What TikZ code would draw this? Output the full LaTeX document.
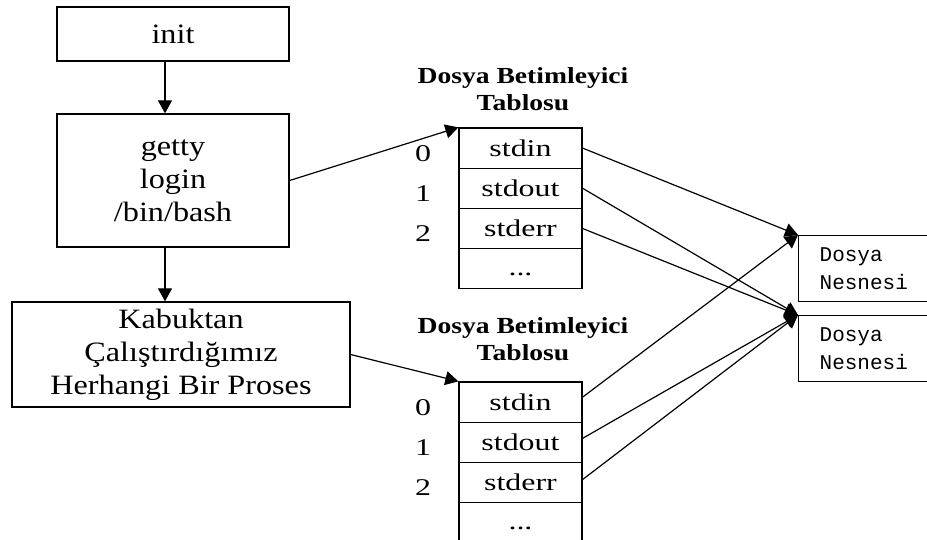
\documentclass[tikz,border=0pt]{standalone}
\usepackage{fontspec}
\usetikzlibrary{arrows.meta}
\newfontfamily\boxfont[FakeStretch=1.15]{Liberation Serif}
\newfontfamily\cellfont[FakeStretch=1.33]{Liberation Serif}
\newfontfamily\headfont[FakeStretch=1.2]{Liberation Serif}
\newfontfamily\objfont{Liberation Mono}
\newcommand{\lowdots}{\raisebox{-7pt}[0pt][0pt]{...}}
\tikzset{
  procbox/.style={draw, line width=1.3pt, rectangle, align=center, inner sep=0pt,
    font=\boxfont\fontsize{28}{33}\selectfont},
  cell/.style={draw, line width=1.3pt, rectangle, inner sep=0pt,
    minimum width=123pt, minimum height=40.2pt,
    font=\cellfont\fontsize{24}{26}\selectfont},
  idx/.style={inner sep=0pt, font=\cellfont\fontsize{24}{26}\selectfont},
  tabtitle/.style={inner sep=0pt, align=center,
    font=\headfont\bfseries\fontsize{23}{27}\selectfont},
  objbox/.style={draw, line width=1.3pt, rectangle, anchor=north west,
    inner xsep=21pt, inner ysep=0pt, text width=110pt, align=left,
    minimum height=66pt, font=\objfont\fontsize{21}{28}\selectfont},
  link/.style={line width=1.2pt, -{Triangle[length=13pt,width=14pt]}}
}
\begin{document}
\begin{tikzpicture}[x=1pt,y=-1pt]
  \useasboundingbox (0,0) rectangle (927,539);
  \clip (0,0) rectangle (927,539);
  \fill[white] (0,0) rectangle (927,539);

  % process chain
  \node[procbox, minimum width=232pt, minimum height=54pt] (init) at (173,34) {init};
  \node[procbox, minimum width=232pt, minimum height=133pt] (getty) at (173,180.5)
    {getty\\login\\/bin/bash};
  \node[procbox, minimum width=338pt, minimum height=105pt] (kab) at (181,354.5)
    {Kabuktan\\Çalıştırdığımız\\Herhangi Bir Proses};

  \draw[link] ([xshift=-8pt]init.south) -- ([xshift=-8pt]init.south |- getty.north);
  \draw[link] ([xshift=-8pt]getty.south) -- ([xshift=-8pt]getty.south |- kab.north);

  % first descriptor table
  \node[tabtitle] (h1) at (523,89) {Dosya Betimleyici\\Tablosu};
  \node[cell] (a0) at (520.5,148.1) {stdin};
  \node[cell] (a1) at (520.5,188.3) {stdout};
  \node[cell] (a2) at (520.5,228.5) {stderr};
  \node[cell] (a3) at (520.5,268.7) {\lowdots};
  \node[idx] (ia0) at (423,154) {0};
  \node[idx] (ia1) at (423,194) {1};
  \node[idx] (ia2) at (423,234) {2};

  % second descriptor table
  \node[tabtitle] (h2) at (523,339) {Dosya Betimleyici\\Tablosu};
  \node[cell] (b0) at (520.5,402.1) {stdin};
  \node[cell] (b1) at (520.5,442.3) {stdout};
  \node[cell] (b2) at (520.5,482.5) {stderr};
  \node[cell] (b3) at (520.5,522.7) {\lowdots};
  \node[idx] (ib0) at (423,408) {0};
  \node[idx] (ib1) at (423,448) {1};
  \node[idx] (ib2) at (423,488) {2};

  % file objects
  \node[objbox] (f1) at (798,235) {Dosya\\Nesnesi};
  \node[objbox] (f2) at (798,315) {Dosya\\Nesnesi};

  % processes to their tables
  \draw[link] (getty.east) -- (a0.north west);
  \draw[link] (kab.east) -- (b0.north west);

  % descriptors to file objects
  \draw[link] (a0.east) -- (f1.north west);
  \draw[link] (a1.east) -- (f2.north west);
  \draw[link] (a2.east) -- (f2.north west);
  \draw[link] ([yshift=5pt]b0.east) -- (f1.north west);
  \draw[link] ([yshift=4pt]b1.east) -- (f2.north west);
  \draw[link] ([yshift=3pt]b2.east) -- (f2.north west);
\end{tikzpicture}
\end{document}
